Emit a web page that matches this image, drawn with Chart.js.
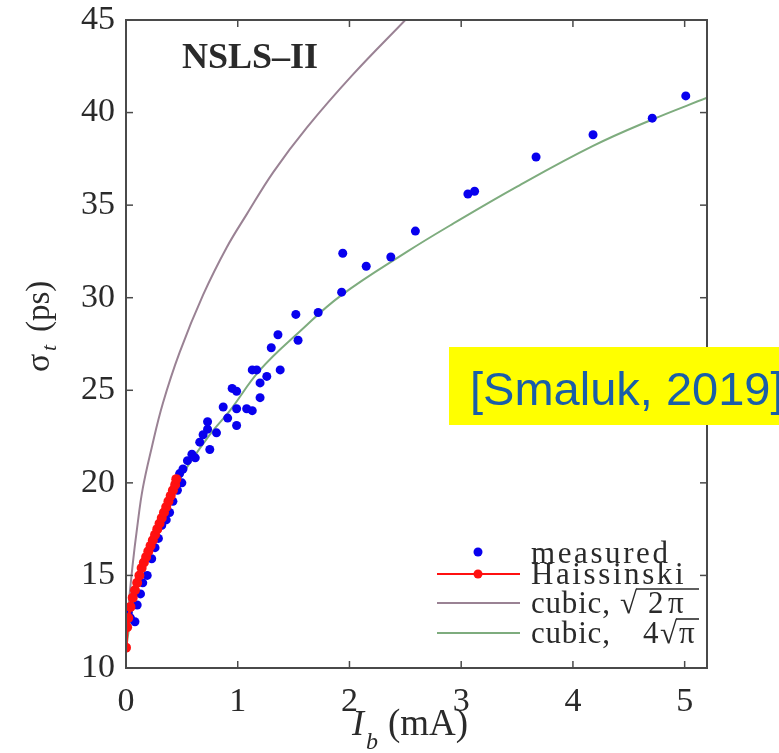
<!DOCTYPE html>
<html>
<head>
<meta charset="utf-8">
<script src="https://cdn.jsdelivr.net/npm/chart.js@4/dist/chart.umd.min.js"></script>
<style>
  html, body { margin: 0; padding: 0; background: #ffffff; }
  #wrap { position: relative; width: 779px; height: 753px; }
</style>
</head>
<body>
<div id="wrap"><canvas id="c" width="779" height="753"></canvas></div>
<script>
// Tick positions
const xTicks = [0, 1, 2, 3, 4, 5];
const yTicks = [10, 15, 20, 25, 30, 35, 40, 45];

// Measured bunch length vs bunch current
const measuredI = [0.02, 0.04, 0.08, 0.10, 0.13, 0.15, 0.19, 0.23, 0.26, 0.29, 0.32, 0.36, 0.39, 0.42, 0.46, 0.48, 0.50, 0.51,
  0.55, 0.59, 0.62, 0.66, 0.69, 0.73, 0.73, 0.75, 0.81, 0.87, 0.91, 0.95, 0.99, 0.99, 0.99, 1.08, 1.13, 1.13, 1.17, 1.20, 1.20,
  1.26, 1.30, 1.36, 1.38, 1.52, 1.54, 1.72, 1.93, 1.94, 2.15, 2.37, 2.59, 3.06, 3.12, 3.67, 4.18, 4.71, 5.01];
const measuredSigma = [13.0, 12.7, 12.5, 13.4, 14.0, 14.6, 15.0, 15.9, 16.5, 17.0, 17.7, 18.0, 18.4, 19.0, 19.6, 20.5, 20.0, 20.75,
  21.2, 21.55, 21.35, 22.2, 22.6, 22.9, 23.3, 21.8, 22.7, 24.1, 23.5, 25.1, 24.95, 24.0, 23.1, 24.0, 26.1, 23.9, 26.1, 25.4, 24.6,
  25.75, 27.3, 28.0, 26.1, 29.1, 27.7, 29.2, 30.3, 32.4, 31.7, 32.2, 33.6, 35.6, 35.75, 37.6, 38.8, 39.7, 40.9];

// Haissinski solution
const haissinskiI = [0, 0.01, 0.02, 0.04, 0.06, 0.08, 0.10, 0.12, 0.14, 0.16, 0.18, 0.20, 0.22, 0.24, 0.26, 0.28,
  0.30, 0.32, 0.34, 0.36, 0.38, 0.40, 0.42, 0.44, 0.45];
const haissinskiSigma = [11.1, 12.2, 12.7, 13.3, 13.8, 14.2, 14.6, 15.0, 15.4, 15.7, 16.0, 16.3, 16.6, 16.9, 17.2, 17.5,
  17.8, 18.1, 18.4, 18.7, 19.0, 19.3, 19.6, 19.9, 20.2];

// Cubic model, sqrt(2*pi) form factor
const cubicAI = [0, 0.02, 0.06, 0.10, 0.15, 0.23, 0.33, 0.48, 0.69, 0.90, 1.08, 1.32, 1.62, 2.03, 2.50];
const cubicASigma = [11.0, 13.1, 15.6, 17.6, 19.7, 21.9, 24.3, 27.05, 30.15, 32.7, 34.5, 36.8, 39.2, 42.05, 45.0];

// Cubic model, 4*sqrt(pi) form factor
const cubicBI = [0, 0.05, 0.10, 0.20, 0.35, 0.50, 0.75, 0.93, 1.20, 1.56, 1.92, 2.52, 2.90, 3.50, 4.18, 4.70, 5.20];
const cubicBSigma = [11.0, 13.0, 14.3, 16.4, 18.6, 20.4, 22.6, 23.9, 26.1, 28.2, 30.1, 32.5, 33.9, 36.0, 38.2, 39.6, 40.8];

const seriesNames = ['measured', 'Haissinski', 'cubic,', 'cubic,'];

const pts = (xs, ys) => xs.map((v, i) => ({ x: v, y: ys[i] }));

const BLUE = '#0800ee';
const RED = '#ff1010';
const MAUVE = '#9a8294';
const GREEN = '#7eac7e';
const AXIS = '#4a4a4a';
const INK = '#2a2a2a';

function seg(ctx, x1, y1, x2, y2) {
  ctx.beginPath(); ctx.moveTo(x1, y1); ctx.lineTo(x2, y2); ctx.stroke();
}

const decorations = {
  id: 'decorations',
  afterDatasetsDraw(chart) {
    const { ctx, chartArea: a, scales: { x, y } } = chart;
    ctx.save();
    ctx.strokeStyle = AXIS;
    ctx.lineWidth = 2;
    ctx.strokeRect(a.left, a.top, a.right - a.left, a.bottom - a.top);
    ctx.lineWidth = 1.5;
    const t = 7;
    xTicks.forEach(v => {
      const px = x.getPixelForValue(v);
      seg(ctx, px, a.bottom, px, a.bottom - t);
      seg(ctx, px, a.top, px, a.top + t);
    });
    yTicks.forEach(v => {
      const py = y.getPixelForValue(v);
      seg(ctx, a.left, py, a.left + t, py);
      seg(ctx, a.right, py, a.right - t, py);
    });
    ctx.restore();
  },
  afterDraw(chart) {
    const { ctx } = chart;
    ctx.save();
    ctx.fillStyle = INK;
    ctx.textBaseline = 'alphabetic';
    ctx.textAlign = 'left';

    // Panel label
    ctx.font = 'bold 36px "Liberation Serif"';
    ctx.fillText('NSLS\u2013II', 182, 68);

    // x-axis title: I_b (mA)
    ctx.font = 'italic 36px "Liberation Serif"';
    ctx.fillText('I', 352, 735);
    ctx.font = 'italic 24px "Liberation Serif"';
    ctx.fillText('b', 366, 749);
    ctx.font = '37px "Liberation Serif"';
    ctx.fillText('(mA)', 388, 735);

    // y-axis title: sigma_t (ps), rotated
    ctx.save();
    ctx.translate(49, 372);
    ctx.rotate(-Math.PI / 2);
    ctx.font = '34px "Liberation Serif"';
    ctx.fillText('\u03c3', 0, 0);
    ctx.font = 'italic 22px "Liberation Serif"';
    ctx.fillText('t', 21, 7);
    ctx.font = '33px "Liberation Serif"';
    ctx.fillText('(ps)', 40, 0);
    ctx.restore();

    // Legend
    const lx1 = 437, lx2 = 520, mx = 478, tx = 531;
    const base = [563, 584, 613, 643];
    const lineY = [552, 574, 603, 633];
    ctx.lineWidth = 2;
    ctx.fillStyle = BLUE;
    ctx.beginPath(); ctx.arc(mx, lineY[0], 4.5, 0, Math.PI * 2); ctx.fill();
    ctx.strokeStyle = RED;
    seg(ctx, lx1, lineY[1], lx2, lineY[1]);
    ctx.fillStyle = RED;
    ctx.beginPath(); ctx.arc(mx, lineY[1], 4.5, 0, Math.PI * 2); ctx.fill();
    ctx.strokeStyle = MAUVE;
    seg(ctx, lx1, lineY[2], lx2, lineY[2]);
    ctx.strokeStyle = GREEN;
    seg(ctx, lx1, lineY[3], lx2, lineY[3]);

    ctx.fillStyle = INK;
    ctx.strokeStyle = INK;
    ctx.font = '31px "Liberation Serif"';
    ctx.letterSpacing = '2.6px';
    ctx.fillText(seriesNames[0], tx, base[0]);
    ctx.fillText(seriesNames[1], tx, base[1]);
    ctx.letterSpacing = '0.8px';
    ctx.fillText(seriesNames[2], tx, base[2]);
    ctx.fillText(seriesNames[3], tx, base[3]);
    ctx.letterSpacing = '0px';
    ctx.lineWidth = 1.6;
    // sqrt(2 pi)
    const wr = ctx.measureText('\u221a').width;
    ctx.fillText('\u221a', 620, base[2]);
    ctx.fillText('2', 648, base[2]);
    ctx.fillText('\u03c0', 668, base[2]);
    seg(ctx, 620 + wr - 1, base[2] - 24, 699, base[2] - 24);
    // 4 sqrt(pi)
    ctx.fillText('4', 643, base[3]);
    ctx.fillText('\u221a', 660, base[3]);
    ctx.fillText('\u03c0', 660 + wr + 2, base[3]);
    seg(ctx, 660 + wr - 1, base[3] - 24, 699, base[3] - 24);

    // Citation tag
    ctx.fillStyle = '#ffff00';
    ctx.fillRect(449, 347, 340, 78);
    ctx.fillStyle = '#1a5ea8';
    ctx.font = '47px "Liberation Sans"';
    ctx.fillText('[Smaluk, 2019]', 470, 405);
    ctx.restore();
  }
};

const tickFont = { family: 'Liberation Serif', size: 34, lineHeight: 1.0 };

new Chart(document.getElementById('c'), {
  type: 'scatter',
  data: {
    datasets: [
      {
        label: 'Haissinski',
        data: pts(haissinskiI, haissinskiSigma),
        showLine: true,
        borderColor: RED,
        borderWidth: 3,
        backgroundColor: RED,
        pointRadius: 5,
        pointBorderWidth: 0,
        order: 1
      },
      {
        label: 'measured',
        data: pts(measuredI, measuredSigma),
        showLine: false,
        backgroundColor: BLUE,
        pointRadius: 4.5,
        pointBorderWidth: 0,
        order: 2
      },
      {
        label: 'cubic, sqrt(2pi)',
        data: pts(cubicAI, cubicASigma),
        showLine: true,
        borderColor: MAUVE,
        borderWidth: 2,
        pointRadius: 0,
        tension: 0.4,
        order: 3
      },
      {
        label: 'cubic, 4sqrt(pi)',
        data: pts(cubicBI, cubicBSigma),
        showLine: true,
        borderColor: GREEN,
        borderWidth: 2,
        pointRadius: 0,
        tension: 0.4,
        order: 4
      }
    ]
  },
  options: {
    responsive: false,
    animation: false,
    devicePixelRatio: 1,
    layout: { padding: { left: 0, right: 72, top: 17, bottom: 0 } },
    plugins: { legend: { display: false }, tooltip: { enabled: false } },
    scales: {
      x: {
        type: 'linear',
        min: 0,
        max: 5.2,
        grid: { display: false },
        border: { display: false },
        afterBuildTicks: s => { s.ticks = xTicks.map(v => ({ value: v })); },
        afterFit: s => { s.height = 85; },
        ticks: { font: tickFont, color: INK, padding: 9, maxRotation: 0, autoSkip: false }
      },
      y: {
        type: 'linear',
        min: 10,
        max: 45,
        grid: { display: false },
        border: { display: false },
        afterBuildTicks: s => { s.ticks = yTicks.map(v => ({ value: v })); },
        afterFit: s => { s.width = 126; },
        ticks: { font: tickFont, color: INK, padding: 3, autoSkip: false }
      }
    }
  },
  plugins: [decorations]
});
</script>
</body>
</html>
